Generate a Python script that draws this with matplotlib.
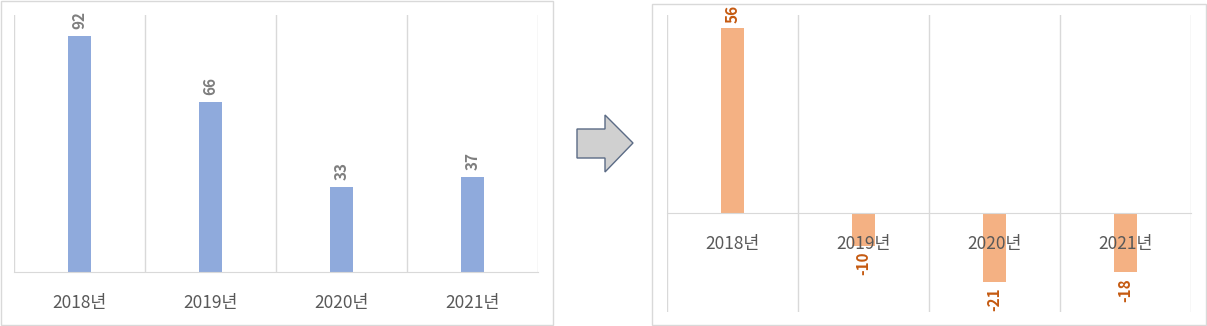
import matplotlib.pyplot as plt
from matplotlib.patches import Polygon, Rectangle

plt.rcParams['font.family'] = ['Noto Sans CJK KR', 'DejaVu Sans']

years = ["2018년", "2019년", "2020년", "2021년"]
counts = [92, 66, 33, 37]
changes = [56, -10, -21, -18]

W, H = 1207, 326
fig = plt.figure(figsize=(W / 100, H / 100), dpi=100)


def px_axes(x0, y0, x1, y1):
    # pixel box (top-left origin) -> figure axes
    return fig.add_axes([x0 / W, 1 - y1 / H, (x1 - x0) / W, (y1 - y0) / H])


# overlay for panel frames and the arrow
deco = fig.add_axes([0, 0, 1, 1], zorder=-1)
deco.set_xlim(0, W)
deco.set_ylim(H, 0)
deco.axis("off")
deco.add_patch(Rectangle((1, 1), 552, 324, fill=False, ec="#d9d9d9", lw=1))
deco.add_patch(Rectangle((652, 4), 554, 321, fill=False, ec="#d9d9d9", lw=1))
arrow = [(577, 129), (605, 129), (605, 115), (633, 143), (605, 172), (605, 158), (577, 158)]
deco.add_patch(Polygon(arrow, closed=True, fc="#d0d0d0", ec="#5b6b85", lw=1))


def style(ax, ymin, ymax):
    ax.set_xlim(-0.5, len(years) - 0.5)
    ax.set_ylim(ymin, ymax)
    for b in [i - 0.5 for i in range(len(years) + 1)]:
        ax.axvline(b, color="#d9d9d9", lw=1, zorder=0)
    for s in ["top", "left", "right"]:
        ax.spines[s].set_visible(False)
    ax.spines["bottom"].set_position(("data", 0))
    ax.spines["bottom"].set_color("#d9d9d9")
    ax.set_axisbelow(False)
    ax.set_yticks([])
    ax.set_xticks(range(len(years)))
    ax.set_xticklabels(years, fontsize=12.5, color="#595959")
    ax.tick_params(axis="x", length=0, pad=16)
    ax.patch.set_alpha(0)


# left panel
ax1 = px_axes(14, 15, 538, 272)
style(ax1, 0, 100)
bars = ax1.bar(range(len(years)), counts, width=0.18, color="#8faadc", zorder=2)
for r, v in zip(bars, counts):
    ax1.annotate(str(v), (r.get_x() + r.get_width() / 2, v), xytext=(0, 5),
                 textcoords="offset points", rotation=90, ha="center", va="bottom",
                 fontsize=11, fontweight="bold", color="#7f7f7f")

# right panel
ax2 = px_axes(667, 15, 1191, 312)
style(ax2, -30, 60)
bars = ax2.bar(range(len(years)), changes, width=0.18, color="#f4b183", zorder=2)
for r, v in zip(bars, changes):
    ax2.annotate(str(v), (r.get_x() + r.get_width() / 2, v),
                 xytext=(0, 4 if v >= 0 else -4), textcoords="offset points",
                 rotation=90, ha="center", va="bottom" if v >= 0 else "top",
                 fontsize=11, fontweight="bold", color="#c55a11")

fig.savefig("out.png", dpi=100)
